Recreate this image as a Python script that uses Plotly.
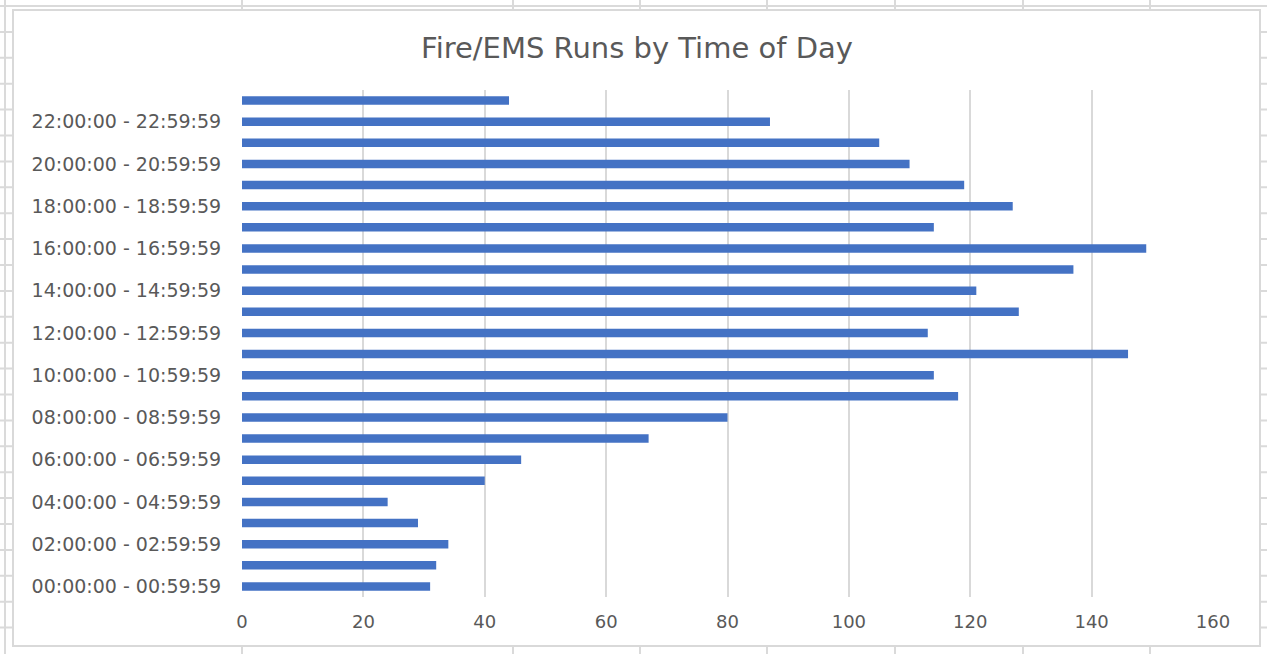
import plotly.graph_objects as go

# ---- data ----
hours = list(range(24))
categories = [f"{h:02d}:00:00 - {h:02d}:59:59" for h in hours]
runs = [31, 32, 34, 29, 24, 40, 46, 67, 80, 118, 114, 146,
        113, 128, 121, 137, 149, 114, 127, 119, 110, 105, 87, 44]
x_ticks = [0, 20, 40, 60, 80, 100, 120, 140, 160]
y_tick_labels = categories[::2]

# ---- layout geometry (pixels) ----
W, H = 1267, 654
PL, PR, PT, PB = 242, 1213, 90, 597  # plot area


def px_x(px):
    return (px - PL) / (PR - PL)


def px_y(py):
    return (PB - py) / (PB - PT)


shapes = []
sheet_col = "#DADADA"
# spreadsheet background grid
for vx in [5, 242, 513, 640, 767, 895, 1023, 1150]:
    shapes.append(dict(type="line", xref="paper", yref="paper",
                       x0=px_x(vx), x1=px_x(vx), y0=px_y(0), y1=px_y(H),
                       line=dict(color=sheet_col, width=2), layer="below"))
for k in range(25):
    hy = 6 + 25.9 * k
    shapes.append(dict(type="line", xref="paper", yref="paper",
                       x0=px_x(0), x1=px_x(W), y0=px_y(hy), y1=px_y(hy),
                       line=dict(color=sheet_col, width=2), layer="below"))
# chart area
shapes.append(dict(type="rect", xref="paper", yref="paper",
                   x0=px_x(13), x1=px_x(1260), y0=px_y(10), y1=px_y(646),
                   fillcolor="white", line=dict(color="#D9D9D9", width=2),
                   layer="below"))

fig = go.Figure()
fig.add_trace(go.Bar(
    y=categories, x=runs, orientation="h",
    marker=dict(color="#4472C4", line=dict(width=0)),
    width=0.4, hoverinfo="skip",
))

font_family = "DejaVu Sans, sans-serif"
fig.update_layout(
    width=W, height=H,
    margin=dict(l=PL, r=W - PR, t=PT, b=H - PB),
    paper_bgcolor="white", plot_bgcolor="white",
    showlegend=False,
    shapes=shapes,
    title=dict(text="Fire/EMS Runs by Time of Day",
               x=px_x(637), xref="paper", xanchor="center",
               y=1 - 48 / H, yanchor="middle",
               font=dict(family=font_family, size=29, color="#595959")),
    xaxis=dict(range=[0, 160], tickvals=x_ticks, showgrid=True,
               gridcolor="#D9D9D9", gridwidth=2, zeroline=False,
               showline=False, ticks="outside", ticklen=8,
               tickcolor="rgba(0,0,0,0)",
               tickfont=dict(family=font_family, size=18, color="#595959")),
    yaxis=dict(type="category", categoryorder="array",
               categoryarray=categories, range=[-0.5, 23.5],
               tickvals=y_tick_labels, ticktext=y_tick_labels,
               showgrid=False, zeroline=False, showline=False,
               ticks="outside", ticklen=16, tickcolor="rgba(0,0,0,0)",
               tickfont=dict(family=font_family, size=19, color="#595959")),
)

fig.write_html("out.html", config={"displayModeBar": False},
               post_script="document.body.style.margin='0';")
